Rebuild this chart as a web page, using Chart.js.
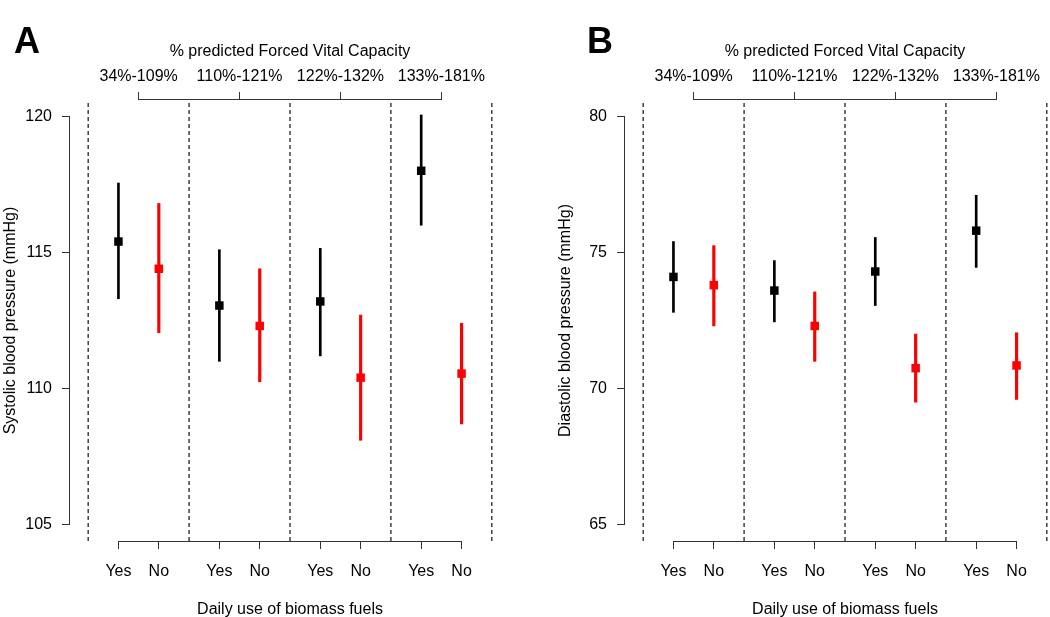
<!DOCTYPE html>
<html>
<head>
<meta charset="utf-8">
<script src="https://cdn.jsdelivr.net/npm/chart.js@4/dist/chart.umd.min.js"></script>
<style>
    body { margin: 0; background: #fff; width: 1050px; height: 617px; overflow: hidden; position: relative; font-family: "Liberation Sans", Arial, sans-serif; }
    canvas { position: absolute; top: 0; }
    #graficoA { left: 0; }
    #graficoB { left: 555px; }
    .letra { position: absolute; font-weight: bold; font-size: 36px; line-height: 36px; color: #000; }
</style>
</head>
<body>
<canvas id="graficoA" width="525" height="617"></canvas>
<canvas id="graficoB" width="525" height="617"></canvas>
<div class="letra" style="left:14px; top:23px">A</div>
<div class="letra" style="left:587px; top:23px">B</div>
<script>
const faixasCVF = ['34%-109%', '110%-121%', '122%-132%', '133%-181%']
const usoBiomassa = ['Yes', 'No']

// A - pressao sistolica (media, limite inferior, limite superior)
const sistSim = [115.4, 113.05, 113.2, 118.0]
const sistSimInf = [113.3, 111.0, 111.2, 116.0]
const sistSimSup = [117.55, 115.1, 115.15, 120.05]
const sistNao = [114.4, 112.3, 110.4, 110.55]
const sistNaoInf = [112.05, 110.25, 108.1, 108.7]
const sistNaoSup = [116.8, 114.4, 112.7, 112.4]
const sistTicks = [105, 110, 115, 120]

// B - pressao diastolica
const diastSim = [74.1, 73.6, 74.3, 75.8]
const diastSimInf = [72.8, 72.45, 73.05, 74.45]
const diastSimSup = [75.4, 74.7, 75.55, 77.1]
const diastNao = [73.8, 72.3, 70.75, 70.85]
const diastNaoInf = [72.3, 71.0, 69.5, 69.6]
const diastNaoSup = [75.25, 73.55, 72.0, 72.05]
const diastTicks = [65, 70, 75, 80]

Chart.defaults.font.family = '"Liberation Sans", Arial, sans-serif'
Chart.defaults.font.size = 16
Chart.defaults.color = '#000'

const pos = (g, k) => g * 2.5 + k
const posInferior = []
faixasCVF.forEach((f, g) => usoBiomassa.forEach((u, k) => posInferior.push(pos(g, k))))
const posSuperior = faixasCVF.map((f, g) => pos(g, 0.5))
const divisores = [0, 1, 2, 3, 4].map(g => pos(g, -0.75))

const corEixo = '#333'

// linha do eixo so entre o primeiro e o ultimo tick, como no R
const eixoR = {
    id: 'eixoR',
    afterDraw(chart) {
        const ctx = chart.ctx
        ctx.save()
        ctx.strokeStyle = corEixo
        ctx.lineWidth = 1
        Object.values(chart.scales).forEach(s => {
            const t = s.ticks
            const a = Math.round(s.getPixelForValue(t[0].value) - 0.5) + 0.5
            const b = Math.round(s.getPixelForValue(t[t.length - 1].value) - 0.5) + 0.5
            ctx.beginPath()
            if (s.axis === 'y') {
                const x = Math.round(s.right) - 0.5
                ctx.moveTo(x, a + 0.5)
                ctx.lineTo(x, b - 0.5)
            } else if (s.position === 'bottom') {
                const y = Math.round(s.top) + 0.5
                ctx.moveTo(a - 0.5, y)
                ctx.lineTo(b + 0.5, y)
            } else {
                const y = Math.round(s.bottom) - 0.5
                ctx.moveTo(a - 0.5, y)
                ctx.lineTo(b + 0.5, y)
            }
            ctx.stroke()
        })
        ctx.restore()
    }
}

function criarGrafico(id, tituloY, yMin, yMax, yTicks, sim, simInf, simSup, nao, naoInf, naoSup) {
    const ctx = document.getElementById(id).getContext('2d')

    const barras = (inf, sup, k, cor, largura) => ({
        type: 'bar',
        data: inf.map((v, g) => ({ x: pos(g, k), y: [v, sup[g]] })),
        backgroundColor: cor,
        borderWidth: 0,
        barThickness: largura,
        grouped: false,
        order: 2
    })

    const pontos = (vals, k, cor) => ({
        type: 'scatter',
        data: vals.map((v, g) => ({ x: pos(g, k), y: v })),
        pointStyle: 'rect',
        pointRadius: 6,
        pointBorderWidth: 0,
        backgroundColor: cor,
        order: 0
    })

    const linhas = divisores.map(d => ({
        type: 'scatter',
        showLine: true,
        data: [{ x: d, y: yMin }, { x: d, y: yMax }],
        borderColor: '#111',
        borderWidth: 1.2,
        borderDash: [4, 3],
        pointRadius: 0,
        order: 3
    }))

    return new Chart(ctx, {
        type: 'scatter',
        data: {
            datasets: [
                pontos(sim, 0, '#000000'),
                pontos(nao, 1, '#ff0000'),
                barras(simInf, simSup, 0, '#000000', 2),
                barras(naoInf, naoSup, 1, '#ff0000', 2.5),
                ...linhas
            ]
        },
        options: {
            responsive: false,
            animation: false,
            layout: { padding: { right: 15 } },
            plugins: { legend: { display: false }, tooltip: { enabled: false } },
            scales: {
                x: {
                    type: 'linear', position: 'bottom', min: -1.2, max: 9.7, bounds: 'data', offset: false,
                    afterBuildTicks: s => { s.ticks = posInferior.map(v => ({ value: v })) },
                    afterFit: s => { s.height = 76 },
                    ticks: { autoSkip: false, maxRotation: 0, padding: 13, callback: (v, i) => usoBiomassa[i % 2] },
                    grid: { drawOnChartArea: false, offset: false, tickLength: 8, color: corEixo },
                    border: { display: false },
                    title: { display: true, text: 'Daily use of biomass fuels', padding: { top: 0, bottom: -2 } }
                },
                xTopo: {
                    type: 'linear', position: 'top', min: -1.2, max: 9.7, bounds: 'data', offset: false,
                    afterBuildTicks: s => { s.ticks = posSuperior.map(v => ({ value: v })) },
                    afterFit: s => { s.height = 100 },
                    ticks: { autoSkip: false, maxRotation: 0, padding: 6, callback: (v, i) => faixasCVF[i] },
                    grid: { drawOnChartArea: false, offset: false, tickLength: 8, color: corEixo },
                    border: { display: false },
                    title: { display: true, text: '% predicted Forced Vital Capacity', padding: { top: 42, bottom: 0 } }
                },
                y: {
                    type: 'linear', min: yMin, max: yMax, bounds: 'data',
                    afterBuildTicks: s => { s.ticks = yTicks.map(v => ({ value: v })) },
                    afterFit: s => { s.width = 70 },
                    ticks: { padding: 10 },
                    grid: { drawOnChartArea: false, tickLength: 8, color: corEixo },
                    border: { display: false },
                    title: { display: true, text: tituloY, padding: { top: 1, bottom: 0 } }
                }
            }
        },
        plugins: [eixoR]
    })
}

criarGrafico('graficoA', 'Systolic blood pressure (mmHg)', 104.4, 120.6, sistTicks,
    sistSim, sistSimInf, sistSimSup, sistNao, sistNaoInf, sistNaoSup)
criarGrafico('graficoB', 'Diastolic blood pressure (mmHg)', 64.4, 80.6, diastTicks,
    diastSim, diastSimInf, diastSimSup, diastNao, diastNaoInf, diastNaoSup)
</script>
</body>
</html>
